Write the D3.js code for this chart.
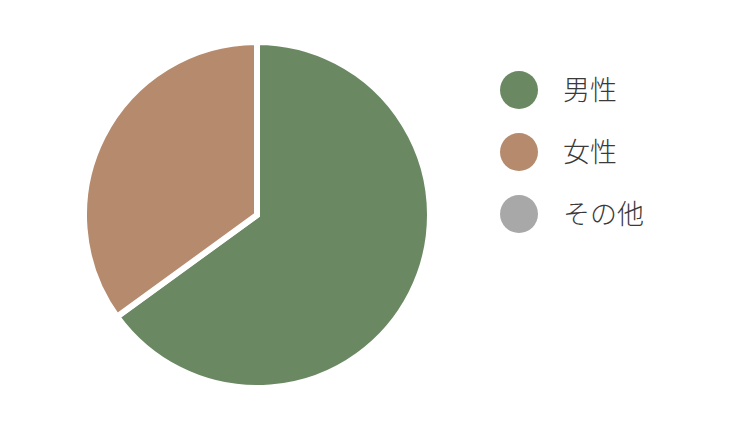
<!DOCTYPE html>
<html>
<head>
<meta charset="utf-8">
<script src="https://cdn.jsdelivr.net/npm/d3@7"></script>
<style>
  body { margin: 0; background: #fff; }
  .legend-label { font-family: "Noto Sans CJK JP", sans-serif; font-weight: 300; fill: #3a3a3a; }
</style>
</head>
<body>
<svg id="chart"></svg>
<script>
// categories and values (percent)
const categories = ['男性', '女性', 'その他'];
const values = [65, 35, 0];
const colors = ['#6a8963', '#b68a6c', '#a8a8a8'];

const width = 730, height = 427;
const cx = 257, cy = 215, radius = 173;

const svg = d3.select('#chart')
    .attr('width', width)
    .attr('height', height);

const color = d3.scaleOrdinal()
    .domain(categories)
    .range(colors);

const pie = d3.pie()
    .value(d => d.value)
    .sort(null);

const arc = d3.arc()
    .innerRadius(0)
    .outerRadius(radius);

const data = categories.map((c, i) => ({ name: c, value: values[i] }));

const chart = svg.append('g')
    .attr('transform', `translate(${cx},${cy})`);

chart.selectAll('path')
  .data(pie(data).filter(d => d.data.value > 0))
  .join('path')
    .attr('d', arc)
    .attr('fill', d => color(d.data.name))
    .attr('stroke', '#fff')
    .attr('stroke-width', 6)
    .attr('stroke-linejoin', 'miter');

// legend
const legendY = d3.scalePoint()
    .domain(categories)
    .range([90, 214]);

const legend = svg.append('g')
    .selectAll('g')
    .data(categories)
    .join('g')
      .attr('transform', d => `translate(519,${legendY(d)})`);

legend.append('circle')
    .attr('r', 19)
    .attr('fill', d => color(d));

legend.append('text')
    .attr('class', 'legend-label')
    .attr('x', 44)
    .attr('dy', '0.38em')
    .attr('font-size', 27)
    .text(d => d);
</script>
</body>
</html>
